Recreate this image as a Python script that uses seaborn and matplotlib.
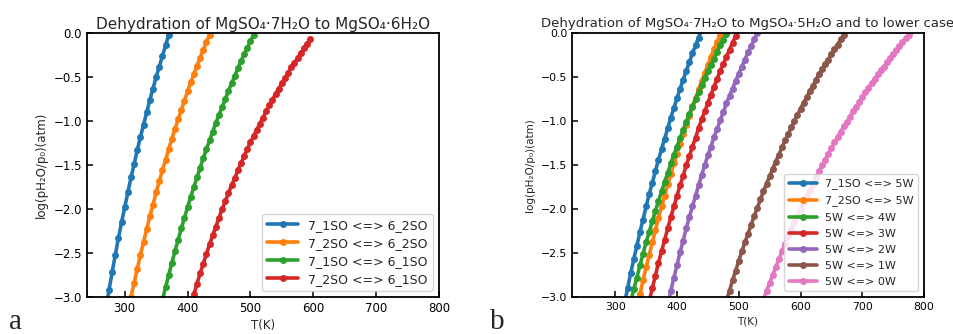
import matplotlib
matplotlib.use("Agg")
import matplotlib.pyplot as plt
import seaborn as sns

# ---- panel a: MgSO4.7H2O -> MgSO4.6H2O ----
labels_a = ["7_1SO <=> 6_2SO", "7_2SO <=> 6_2SO", "7_1SO <=> 6_1SO", "7_2SO <=> 6_1SO"]

t_a1 = [270, 275, 280, 285, 290, 295, 300, 305, 310, 315, 320, 325, 330, 335, 340, 345,
        350, 355, 360, 365, 370, 375]
lp_a1 = [-3.13, -2.92, -2.72, -2.52, -2.33, -2.15, -1.98, -1.81, -1.64, -1.49, -1.33, -1.18,
         -1.04, -0.90, -0.76, -0.63, -0.50, -0.38, -0.26, -0.14, -0.02, 0.09]

t_a2 = [305, 310, 315, 320, 325, 330, 335, 340, 345, 350, 355, 360, 365, 370, 375, 380,
        385, 390, 395, 400, 405, 410, 415, 420, 425, 430, 435, 440]
lp_a2 = [-3.17, -3.00, -2.84, -2.68, -2.52, -2.37, -2.23, -2.08, -1.95, -1.81, -1.68, -1.56,
         -1.44, -1.32, -1.20, -1.09, -0.98, -0.87, -0.77, -0.66, -0.56, -0.47, -0.37, -0.28,
         -0.19, -0.10, -0.02, 0.07]

t_a3 = [360, 365, 370, 375, 380, 385, 390, 395, 400, 405, 410, 415, 420, 425, 430, 435,
        440, 445, 450, 455, 460, 465, 470, 475, 480, 485, 490, 495, 500, 505, 510]
lp_a3 = [-3.03, -2.89, -2.75, -2.61, -2.48, -2.35, -2.22, -2.10, -1.98, -1.86, -1.75, -1.64,
         -1.53, -1.42, -1.32, -1.22, -1.12, -1.02, -0.93, -0.84, -0.75, -0.66, -0.57, -0.49,
         -0.40, -0.32, -0.24, -0.17, -0.09, -0.02, 0.06]

t_a4 = [405, 410, 415, 420, 425, 430, 435, 440, 445, 450, 455, 460, 465, 470, 475, 480,
        485, 490, 495, 500, 505, 510, 515, 520, 525, 530, 535, 540, 545, 550, 555, 560,
        565, 570, 575, 580, 585, 590, 595]
lp_a4 = [-3.09, -2.97, -2.85, -2.73, -2.62, -2.51, -2.40, -2.30, -2.20, -2.10, -2.00, -1.91,
         -1.82, -1.73, -1.65, -1.56, -1.48, -1.40, -1.32, -1.24, -1.17, -1.10, -1.03, -0.96,
         -0.89, -0.82, -0.76, -0.69, -0.63, -0.57, -0.51, -0.45, -0.39, -0.34, -0.28, -0.23,
         -0.17, -0.12, -0.07]

# ---- panel b: MgSO4.7H2O -> MgSO4.5H2O and lower hydrates ----
labels_b = ["7_1SO <=> 5W", "7_2SO <=> 5W", "5W <=> 4W", "5W <=> 3W",
            "5W <=> 2W", "5W <=> 1W", "5W <=> 0W"]

t_b1 = [315, 320, 325, 330, 335, 340, 345, 350, 355, 360, 365, 370, 375, 380, 385, 390,
        395, 400, 405, 410, 415, 420, 425, 430, 435, 440]
lp_b1 = [-3.07, -2.90, -2.73, -2.57, -2.42, -2.26, -2.12, -1.97, -1.83, -1.70, -1.57, -1.44,
         -1.32, -1.20, -1.08, -0.96, -0.85, -0.74, -0.63, -0.53, -0.43, -0.33, -0.23, -0.14,
         -0.05, 0.04]

t_b2 = [335, 340, 345, 350, 355, 360, 365, 370, 375, 380, 385, 390, 395, 400, 405, 410,
        415, 420, 425, 430, 435, 440, 445, 450, 455, 460, 465, 470, 475]
lp_b2 = [-3.13, -2.97, -2.81, -2.66, -2.52, -2.38, -2.24, -2.10, -1.97, -1.85, -1.72, -1.60,
         -1.48, -1.37, -1.26, -1.15, -1.04, -0.94, -0.83, -0.74, -0.64, -0.54, -0.45, -0.36,
         -0.27, -0.18, -0.10, -0.02, 0.06]

t_b3 = [325, 330, 335, 340, 345, 350, 355, 360, 365, 370, 375, 380, 385, 390, 395, 400,
        405, 410, 415, 420, 425, 430, 435, 440, 445, 450, 455, 460, 465, 470, 475, 480, 485]
lp_b3 = [-3.06, -2.91, -2.78, -2.64, -2.51, -2.38, -2.26, -2.14, -2.02, -1.91, -1.80, -1.69,
         -1.59, -1.48, -1.38, -1.29, -1.19, -1.10, -1.01, -0.92, -0.84, -0.75, -0.67, -0.59,
         -0.51, -0.43, -0.36, -0.29, -0.21, -0.14, -0.08, -0.01, 0.06]

t_b4 = [355, 360, 365, 370, 375, 380, 385, 390, 395, 400, 405, 410, 415, 420, 425, 430,
        435, 440, 445, 450, 455, 460, 465, 470, 475, 480, 485, 490, 495, 500]
lp_b4 = [-3.05, -2.90, -2.76, -2.61, -2.48, -2.35, -2.22, -2.09, -1.97, -1.85, -1.73, -1.62,
         -1.50, -1.40, -1.29, -1.19, -1.08, -0.98, -0.89, -0.79, -0.70, -0.61, -0.52, -0.43,
         -0.35, -0.27, -0.19, -0.11, -0.03, 0.05]

t_b5 = [385, 390, 395, 400, 405, 410, 415, 420, 425, 430, 435, 440, 445, 450, 455, 460,
        465, 470, 475, 480, 485, 490, 495, 500, 505, 510, 515, 520, 525, 530, 535]
lp_b5 = [-3.09, -2.93, -2.78, -2.64, -2.49, -2.36, -2.22, -2.09, -1.97, -1.85, -1.73, -1.61,
         -1.50, -1.39, -1.29, -1.18, -1.09, -0.99, -0.90, -0.80, -0.71, -0.63, -0.54, -0.46,
         -0.38, -0.30, -0.22, -0.15, -0.07, 0.00, 0.07]

t_b6 = [480, 485, 490, 495, 500, 505, 510, 515, 520, 525, 530, 535, 540, 545, 550, 555,
        560, 565, 570, 575, 580, 585, 590, 595, 600, 605, 610, 615, 620, 625, 630, 635,
        640, 645, 650, 655, 660, 665, 670, 675]
lp_b6 = [-3.04, -2.93, -2.81, -2.70, -2.59, -2.48, -2.38, -2.28, -2.18, -2.08, -1.99, -1.89,
         -1.80, -1.71, -1.63, -1.54, -1.46, -1.38, -1.30, -1.22, -1.15, -1.07, -1.00, -0.93,
         -0.86, -0.79, -0.73, -0.66, -0.60, -0.53, -0.47, -0.41, -0.35, -0.30, -0.24, -0.18,
         -0.13, -0.07, -0.02, 0.03]

t_b7 = [540, 545, 550, 555, 560, 565, 570, 575, 580, 585, 590, 595, 600, 605, 610, 615,
        620, 625, 630, 635, 640, 645, 650, 655, 660, 665, 670, 675, 680, 685, 690, 695,
        700, 705, 710, 715, 720, 725, 730, 735, 740, 745, 750, 755, 760, 765, 770, 775, 780]
lp_b7 = [-3.03, -2.93, -2.84, -2.75, -2.66, -2.57, -2.48, -2.40, -2.31, -2.23, -2.15, -2.08,
         -2.00, -1.92, -1.85, -1.78, -1.71, -1.64, -1.57, -1.50, -1.44, -1.37, -1.31, -1.24,
         -1.18, -1.12, -1.06, -1.01, -0.95, -0.89, -0.84, -0.78, -0.73, -0.67, -0.62, -0.57,
         -0.52, -0.47, -0.42, -0.38, -0.33, -0.28, -0.24, -0.19, -0.15, -0.10, -0.06, -0.02,
         0.03]

series_a = [(t_a1, lp_a1), (t_a2, lp_a2), (t_a3, lp_a3), (t_a4, lp_a4)]
series_b = [(t_b1, lp_b1), (t_b2, lp_b2), (t_b3, lp_b3), (t_b4, lp_b4),
            (t_b5, lp_b5), (t_b6, lp_b6), (t_b7, lp_b7)]

sns.set_style("white", {"xtick.direction": "in", "ytick.direction": "in",
                        "axes.edgecolor": "black"})
plt.rcParams["font.family"] = ["DejaVu Sans"]
plt.rcParams["axes.linewidth"] = 1.3

colors = sns.color_palette("tab10", 7)
ylab = "log(pH\u2082O/p\u2080)(atm)"

fig = plt.figure(figsize=(9.54, 3.34), dpi=100)
ax_a = fig.add_axes([0.0912, 0.1108, 0.369, 0.790])
ax_b = fig.add_axes([0.5996, 0.1108, 0.369, 0.790])


def draw_panel(ax, series, labels, fs_tick, fs_lab, fs_leg, xmin, spacing):
    for (t, lp), lab, col in zip(series, labels, colors):
        sns.lineplot(x=t, y=lp, ax=ax, color=col, marker="o", markersize=5,
                     markeredgewidth=0, linewidth=2.6, label=lab, sort=False)
    ax.set_xlim(xmin, 800)
    ax.set_ylim(-3.0, 0.0)
    ax.set_xticks([300, 400, 500, 600, 700, 800])
    ax.set_yticks([-3.0, -2.5, -2.0, -1.5, -1.0, -0.5, 0.0])
    ax.tick_params(direction="in", length=4, width=1.1, labelsize=fs_tick,
                   left=True, bottom=True, top=False, right=False, colors="black")
    ax.set_xlabel("T(K)", fontsize=fs_lab, labelpad=3)
    ax.set_ylabel(ylab, fontsize=fs_lab)
    ax.legend(loc="lower right", fontsize=fs_leg, handlelength=2.5, labelspacing=spacing)


draw_panel(ax_a, series_a, labels_a, 8.5, 8.5, 9, 240, 0.4)
draw_panel(ax_b, series_b, labels_b, 7.8, 7.5, 8, 230, 0.55)

ax_a.set_title("Dehydration of MgSO\u2084\u00b77H\u2082O to MgSO\u2084\u00b76H\u2082O",
               fontsize=11, pad=3)
ax_b.set_title("Dehydration of MgSO\u2084\u00b77H\u2082O to MgSO\u2084\u00b75H\u2082O and to lower case",
               fontsize=9.5, pad=4.5)

fig.text(0.009, 0.014, "a", family="Liberation Serif", fontsize=21, va="baseline")
fig.text(0.514, 0.014, "b", family="Liberation Serif", fontsize=21, va="baseline")

fig.savefig("out.png", dpi=100)
